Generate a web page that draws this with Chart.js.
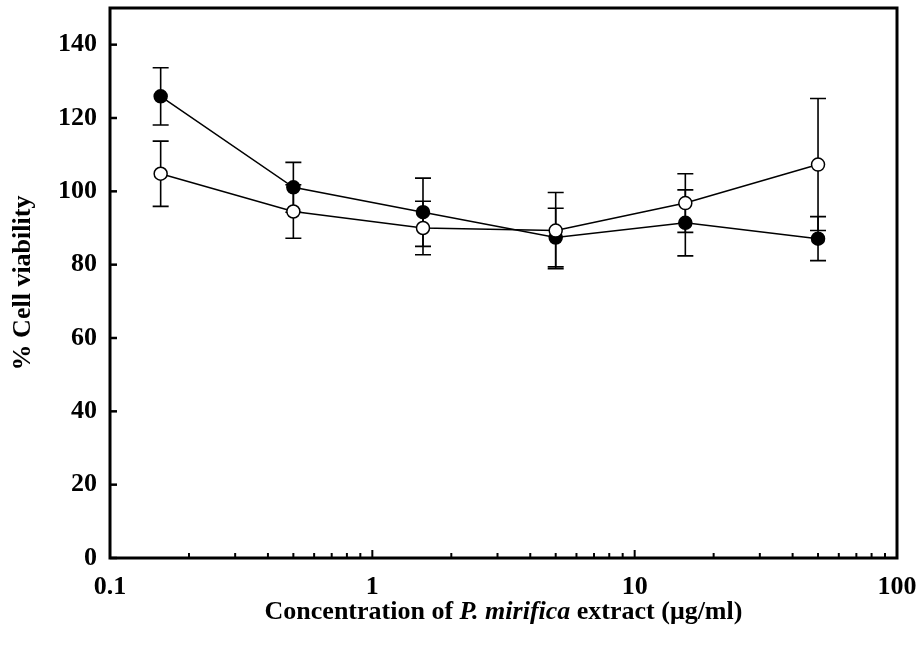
<!DOCTYPE html>
<html>
<head>
<meta charset="utf-8">
<script src="https://cdn.jsdelivr.net/npm/chart.js@4.4.1/dist/chart.umd.min.js"></script>
<style>
html,body{margin:0;padding:0;background:#fff;}
#wrap{width:921px;height:654px;position:relative;}
</style>
</head>
<body>
<div id="wrap"><canvas id="c" width="921" height="654"></canvas></div>
<script>
// ---- data ----
const concentrations = [0.156, 0.5, 1.56, 5, 15.6, 50];
const filledMeans = [125.9, 101.1, 94.3, 87.4, 91.4, 87.1];
const filledErr   = [7.8, 6.8, 9.3, 8.0, 9.0, 6.0];
const openMeans   = [104.8, 94.5, 90.0, 89.3, 96.8, 107.3];
const openErr     = [8.9, 7.3, 7.3, 10.4, 8.0, 18.0];
const xTickValues = [0.1, 1, 10, 100];
const yTickValues = [0, 20, 40, 60, 80, 100, 120, 140];
const xTitleParts = [
  {text: 'Concentration of ', italic: false},
  {text: 'P. mirifica', italic: true},
  {text: ' extract (μg/ml)', italic: false}
];
const yTitle = '% Cell viability';

const FONT = "'Liberation Serif', 'Times New Roman', serif";
const FS = 26;

function pts(xs, ys, es) {
  return xs.map((x, i) => ({x: x, y: ys[i], err: es[i]}));
}

const errorBarPlugin = {
  id: 'errorBars',
  beforeDatasetsDraw(chart) {
    const ctx = chart.ctx;
    const xs = chart.scales.x, ys = chart.scales.y;
    ctx.save();
    ctx.strokeStyle = '#000';
    ctx.lineWidth = 1.6;
    chart.data.datasets.forEach(ds => {
      ds.data.forEach(p => {
        const px = xs.getPixelForValue(p.x);
        const top = ys.getPixelForValue(p.y + p.err);
        const bot = ys.getPixelForValue(p.y - p.err);
        const cap = 8;
        ctx.beginPath();
        ctx.moveTo(px, top); ctx.lineTo(px, bot);
        ctx.moveTo(px - cap, top); ctx.lineTo(px + cap, top);
        ctx.moveTo(px - cap, bot); ctx.lineTo(px + cap, bot);
        ctx.stroke();
      });
    });
    ctx.restore();
  }
};

const framePlugin = {
  id: 'frame',
  afterDraw(chart) {
    const ctx = chart.ctx;
    const a = chart.chartArea;
    const xs = chart.scales.x, ys = chart.scales.y;
    ctx.save();
    ctx.strokeStyle = '#000';
    // y ticks (inward)
    ctx.lineWidth = 2.5;
    yTickValues.forEach(v => {
      const py = ys.getPixelForValue(v);
      ctx.beginPath(); ctx.moveTo(a.left, py); ctx.lineTo(a.left + 7, py); ctx.stroke();
    });
    // x ticks (inward), log major + minor
    ctx.lineWidth = 2;
    for (let d = 0; d < xTickValues.length - 1; d++) {
      const base = xTickValues[d];
      for (let m = 1; m <= 9; m++) {
        const v = base * m;
        const px = xs.getPixelForValue(v);
        const len = m === 1 ? 8 : 5;
        ctx.beginPath(); ctx.moveTo(px, a.bottom); ctx.lineTo(px, a.bottom - len); ctx.stroke();
      }
    }
    // frame
    ctx.lineWidth = 3;
    ctx.strokeRect(a.left, a.top, a.right - a.left, a.bottom - a.top);

    // x-axis title with italic species name
    const fontFor = it => (it ? 'italic ' : '') + 'bold ' + FS + 'px ' + FONT;
    let total = 0;
    xTitleParts.forEach(p => { ctx.font = fontFor(p.italic); p.w = ctx.measureText(p.text).width; total += p.w; });
    let x = (a.left + a.right) / 2 - total / 2;
    const y = a.bottom + 54;
    ctx.fillStyle = '#000';
    ctx.textBaseline = 'middle';
    ctx.textAlign = 'left';
    xTitleParts.forEach(p => { ctx.font = fontFor(p.italic); ctx.fillText(p.text, x, y); x += p.w; });
    ctx.restore();
  }
};

new Chart(document.getElementById('c'), {
  type: 'line',
  data: {
    datasets: [
      {
        label: 'open',
        data: pts(concentrations, openMeans, openErr),
        borderColor: '#000',
        borderWidth: 1.5,
        pointRadius: 6.5,
        pointBorderWidth: 1.5,
        pointBackgroundColor: '#fff',
        pointBorderColor: '#000',
        fill: false,
        tension: 0
      },
      {
        label: 'filled',
        data: pts(concentrations, filledMeans, filledErr),
        borderColor: '#000',
        borderWidth: 1.5,
        pointRadius: 6.5,
        pointBorderWidth: 1.5,
        pointBackgroundColor: '#000',
        pointBorderColor: '#000',
        fill: false,
        tension: 0
      }
    ]
  },
  options: {
    responsive: false,
    animation: false,
    layout: {padding: {top: 8, right: 24, left: 0, bottom: 0}},
    plugins: {legend: {display: false}, tooltip: {enabled: false}},
    scales: {
      x: {
        type: 'logarithmic',
        min: 0.1, max: 100,
        grid: {display: false, drawTicks: false},
        border: {display: false},
        afterBuildTicks(scale) { scale.ticks = xTickValues.map(v => ({value: v, major: true})); },
        afterFit(scale) { scale.height = 96; scale.paddingLeft = 0; scale.paddingRight = 0; },
        ticks: {
          autoSkip: false, maxRotation: 0, padding: 14,
          color: '#000',
          font: {family: FONT, size: FS, weight: 'bold'},
          callback: v => String(v)
        },
        title: {display: false}
      },
      y: {
        min: 0, max: 150,
        grid: {display: false, drawTicks: false},
        border: {display: false},
        afterBuildTicks(scale) { scale.ticks = yTickValues.map(v => ({value: v})); },
        afterFit(scale) { scale.width = 110; scale.paddingTop = 0; scale.paddingBottom = 0; },
        ticks: {
          padding: 13,
          color: '#000',
          font: {family: FONT, size: FS, weight: 'bold'}
        },
        title: {
          display: true,
          text: yTitle,
          color: '#000',
          font: {family: FONT, size: FS, weight: 'bold'},
          padding: {top: 8, bottom: 0}
        }
      }
    }
  },
  plugins: [errorBarPlugin, framePlugin]
});
</script>
</body>
</html>
